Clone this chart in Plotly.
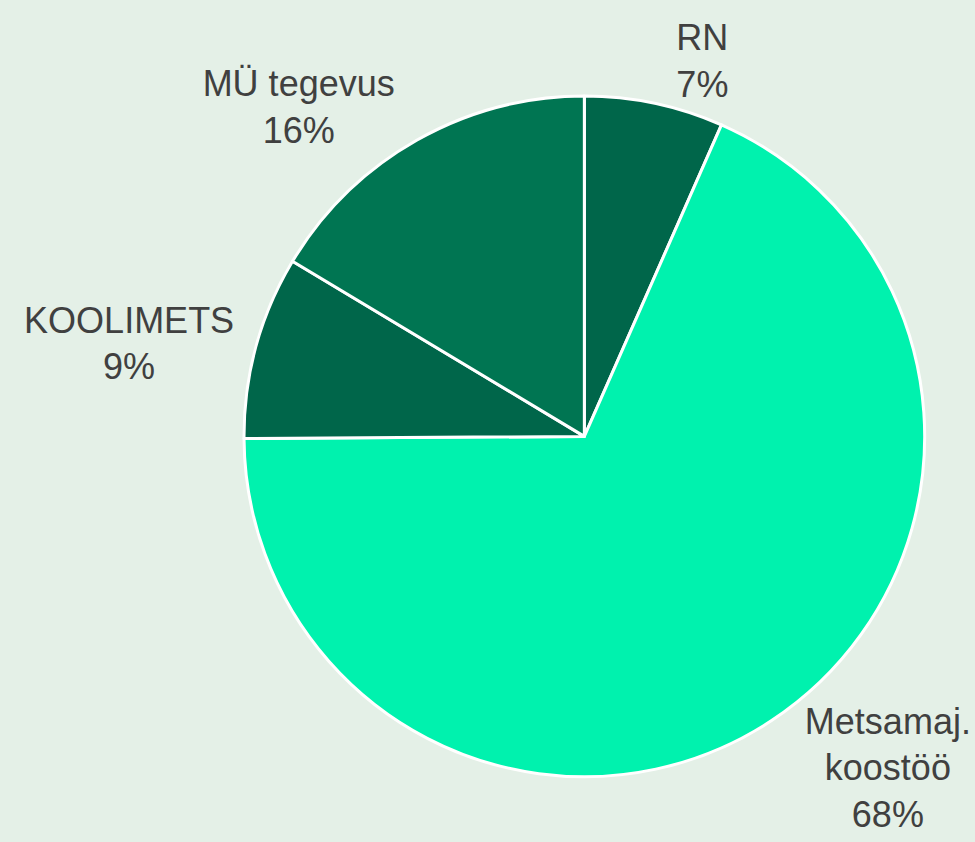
import plotly.graph_objects as go

labels = ["RN", "Metsamaj.<br>koostöö", "KOOLIMETS", "MÜ tegevus"]
values = [6.6, 68.3, 8.7, 16.4]
colors = ["#00664A", "#00F2AE", "#00664A", "#007552"]

fig = go.Figure(go.Pie(
    labels=labels,
    values=values,
    sort=False,
    direction="clockwise",
    rotation=0,
    marker=dict(colors=colors, line=dict(color="white", width=3)),
    texttemplate="%{label}<br>%{percent:.0%}",
    textposition="outside",
    textfont=dict(family="Liberation Sans, Arial, sans-serif", size=36, color="#404040"),
    domain=dict(x=[0.2574, 0.9754], y=[0.0534, 0.8848]),
    showlegend=False,
    hoverinfo="label+percent",
))

fig.update_layout(
    width=975, height=842,
    margin=dict(l=0, r=0, t=0, b=0),
    paper_bgcolor="#E4F0E7",
    plot_bgcolor="#E4F0E7",
)

fig.write_html(
    "out.html",
    config={"displayModeBar": False},
    post_script="document.body.style.margin='0px';document.body.style.background='#E4F0E7';",
)
